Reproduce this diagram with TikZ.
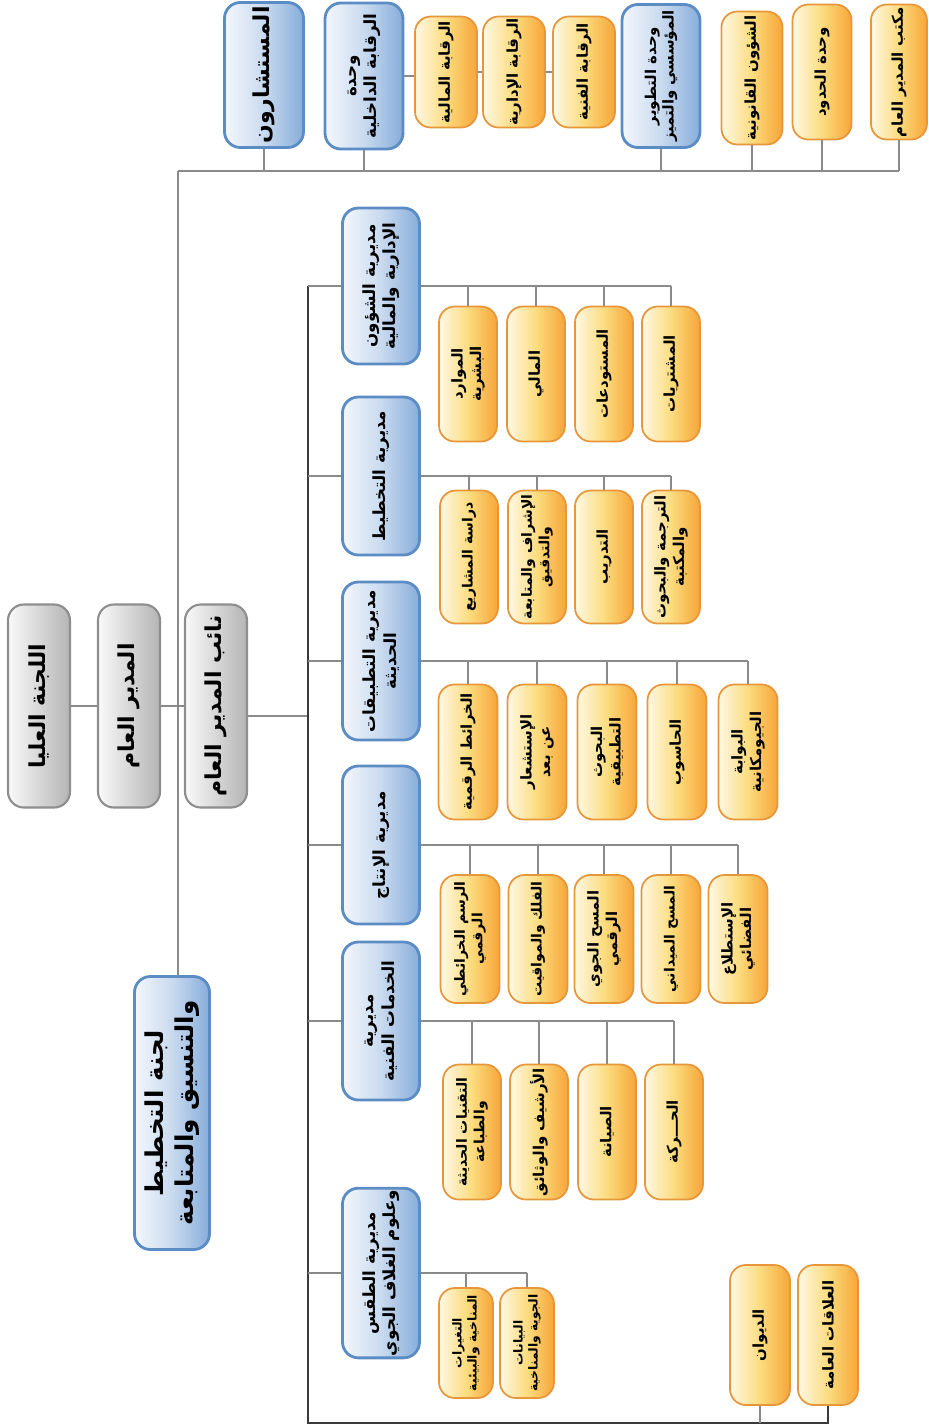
\documentclass[tikz,border=0pt]{standalone}
\usepackage{fontspec}
\newfontfamily\arabicfont[Script=Arabic]{DejaVu Sans}
\TeXXeTstate=1
\usetikzlibrary{calc}
\newcommand{\artxt}[1]{\beginR #1\endR}

\definecolor{blueedge}{HTML}{5B8CC4}
\definecolor{bluefill}{HTML}{86ADDB}
\definecolor{bluemid}{HTML}{C9DAEF}
\definecolor{bluelight}{HTML}{F4F7FC}
\definecolor{orangeedge}{HTML}{E8963A}
\definecolor{orangefill}{HTML}{F7A538}
\definecolor{orangemid}{HTML}{FBDC7E}
\definecolor{orangelight}{HTML}{FFF8E4}
\definecolor{grayedge}{HTML}{8E8E8E}
\definecolor{grayfill}{HTML}{B4B4B4}
\definecolor{graylight}{HTML}{FAFAFA}
\definecolor{linegray}{HTML}{8A8A8A}
\definecolor{linedark}{HTML}{3A3A3A}

\tikzstyle{unit}=[%
  rounded corners=9pt,
  rotate=90,
  align=center,
  inner sep=1pt,
  font=\arabicfont\bfseries\fontsize{8.5}{10.5}\selectfont
]
\tikzstyle{bluebox}=[unit, draw=blueedge, line width=1.6pt,
  left color=bluelight, right color=bluefill, middle color=bluemid,
  font=\arabicfont\bfseries\fontsize{9.5}{11.5}\selectfont]
\tikzstyle{orangebox}=[unit, draw=orangeedge, line width=1pt,
  left color=orangelight, right color=orangefill, middle color=orangemid]
\tikzstyle{graybox}=[unit, draw=grayedge, line width=1.2pt,
  left color=graylight, right color=grayfill,
  font=\arabicfont\bfseries\fontsize{12.5}{15}\selectfont]
\tikzstyle{bigtext}=[font=\arabicfont\bfseries\fontsize{14}{17}\selectfont]
\tikzstyle{headtext}=[font=\arabicfont\bfseries\fontsize{12.5}{15}\selectfont]
\tikzstyle{midtext}=[font=\arabicfont\bfseries\fontsize{8.5}{10}\selectfont]
\tikzstyle{longtext}=[font=\arabicfont\bfseries\fontsize{8}{10}\selectfont]
\tikzstyle{smalltext}=[font=\arabicfont\bfseries\fontsize{7}{8.5}\selectfont]
\tikzstyle{link}=[draw=linegray, line width=0.6pt]
\tikzstyle{trunk}=[draw=linedark, line width=1.1pt]
\tikzset{boxsize/.style 2 args={minimum width=#2*0.02cm, minimum height=#1*0.02cm}}

\begin{document}
\begin{tikzpicture}[x=0.02cm, y=-0.02cm]
  \useasboundingbox (0,0) rectangle (929,1427);

  % top row
  \node[bluebox, headtext, boxsize={79}{145}] (advisors) at (264,75) {\artxt{المستشارون}};
  \node[bluebox, boxsize={78}{146}] (internal) at (364,76) {\artxt{وحدة}\\\artxt{الرقابة الداخلية}};
  \node[orangebox, boxsize={62}{111}] (fincontrol) at (446,72) {\artxt{الرقابة المالية}};
  \node[orangebox, boxsize={62}{111}] (admcontrol) at (514,72) {\artxt{الرقابة الإدارية}};
  \node[orangebox, boxsize={62}{111}] (techcontrol) at (584,72) {\artxt{الرقابة الفنية}};
  \node[bluebox, midtext, boxsize={78}{143}] (devunit) at (661,76) {\artxt{وحدة التطوير}\\\artxt{المؤسسي والتميز}};
  \node[orangebox, midtext, boxsize={61}{133}] (legal) at (752,78) {\artxt{الشؤون القانونية}};
  \node[orangebox, midtext, boxsize={59}{135}] (borders) at (822,72) {\artxt{وحدة الحدود}};
  \node[orangebox, midtext, boxsize={56}{135}] (office) at (899,72) {\artxt{مكتب المدير العام}};

  % left column
  \node[graybox, boxsize={62}{203}] (supreme) at (39,706) {\artxt{اللجنة العليا}};
  \node[graybox, boxsize={62}{203}] (dg) at (129,706) {\artxt{المدير العام}};
  \node[graybox, boxsize={62}{203}] (deputy) at (216,706) {\artxt{نائب المدير العام}};
  \node[bluebox, bigtext, boxsize={75}{273}] (committee) at (172,1113) {\artxt{لجنة التخطيط}\\\artxt{والتنسيق والمتابعة}};

  % directorates
  \node[bluebox, boxsize={77}{156}] (dirAdmin) at (381,286) {\artxt{مديرية الشؤون}\\\artxt{الإدارية والمالية}};
  \node[bluebox, boxsize={77}{158}] (dirPlan) at (381,476) {\artxt{مديرية التخطيط}};
  \node[bluebox, boxsize={77}{158}] (dirApps) at (381,661) {\artxt{مديرية التطبيقات}\\\artxt{الحديثة}};
  \node[bluebox, boxsize={77}{158}] (dirProd) at (381,845) {\artxt{مديرية الإنتاج}};
  \node[bluebox, boxsize={77}{158}] (dirServ) at (381,1021) {\artxt{مديرية}\\\artxt{الخدمات الفنية}};
  \node[bluebox, boxsize={77}{158}] (dirWeather) at (381,1273) {\artxt{مديرية الطقس}\\\artxt{وعلوم الغلاف الجوي}};

  % sections
  \node[orangebox, boxsize={58}{135}] (hr) at (468,374) {\artxt{الموارد}\\\artxt{البشرية}};
  \node[orangebox, boxsize={58}{135}] (finance) at (536,374) {\artxt{المالي}};
  \node[orangebox, boxsize={58}{135}] (stores) at (604,374) {\artxt{المستودعات}};
  \node[orangebox, boxsize={58}{135}] (purchasing) at (671,374) {\artxt{المشتريات}};

  \node[orangebox, longtext, boxsize={58}{133}] (projects) at (469,557) {\artxt{دراسة المشاريع}};
  \node[orangebox, longtext, boxsize={58}{133}] (supervision) at (537,557) {\artxt{الإشراف والمتابعة}\\\artxt{والتدقيق}};
  \node[orangebox, boxsize={58}{133}] (training) at (604,557) {\artxt{التدريب}};
  \node[orangebox, boxsize={58}{133}] (translation) at (671,557) {\artxt{الترجمة والبحوث}\\\artxt{والمكتبة}};

  \node[orangebox, boxsize={59}{135}] (digmaps) at (468,752) {\artxt{الخرائط الرقمية}};
  \node[orangebox, boxsize={59}{135}] (remote) at (537,752) {\artxt{الإستشعار}\\\artxt{عن بعد}};
  \node[orangebox, boxsize={59}{135}] (research) at (607,752) {\artxt{البحوث}\\\artxt{التطبيقية}};
  \node[orangebox, boxsize={59}{135}] (computing) at (677,752) {\artxt{الحاسوب}};
  \node[orangebox, boxsize={59}{135}] (portal) at (748,752) {\artxt{البوابة}\\\artxt{الجيومكانية}};

  \node[orangebox, longtext, boxsize={59}{128}] (cartography) at (470,939) {\artxt{الرسم الخرائطي}\\\artxt{الرقمي}};
  \node[orangebox, longtext, boxsize={59}{128}] (astronomy) at (538,939) {\artxt{الفلك والمواقيت}};
  \node[orangebox, boxsize={59}{128}] (aerial) at (604,939) {\artxt{المسح الجوي}\\\artxt{الرقمي}};
  \node[orangebox, longtext, boxsize={59}{128}] (fieldsurvey) at (671,939) {\artxt{المسح الميداني}};
  \node[orangebox, boxsize={59}{128}] (spacerecon) at (738,939) {\artxt{الإستطلاع}\\\artxt{الفضائي}};

  \node[orangebox, longtext, boxsize={58}{135}] (printing) at (472,1132) {\artxt{التقنيات الحديثة}\\\artxt{والطباعة}};
  \node[orangebox, boxsize={58}{135}] (archive) at (539,1132) {\artxt{الأرشيف والوثائق}};
  \node[orangebox, boxsize={58}{135}] (maintenance) at (607,1132) {\artxt{الصيانة}};
  \node[orangebox, boxsize={58}{135}] (transport) at (674,1132) {\artxt{الحـــركة}};

  \node[orangebox, smalltext, boxsize={54}{110}] (climate) at (466,1343) {\artxt{التغيرات}\\\artxt{المناخية والبيئية}};
  \node[orangebox, smalltext, boxsize={54}{110}] (atmdata) at (527,1343) {\artxt{البيانات}\\\artxt{الجوية والمناخية}};

  \node[orangebox, boxsize={60}{140}] (diwan) at (760,1335) {\artxt{الديوان}};
  \node[orangebox, boxsize={60}{140}] (pr) at (828,1335) {\artxt{العلاقات العامة}};

  % connectors
  \coordinate (spine) at (178,171);
  \coordinate (deplink) at (308,716);
  \coordinate (trunktop) at (308,286);
  \coordinate (trunkbot) at (308,1423);

  \draw[link] (spine) -- (spine -| office.west);
  \draw[link] (spine) -- (spine |- committee.east);
  \foreach \u in {advisors,internal,devunit,legal,borders,office}
    \draw[link] (\u.west) -- (\u.west |- spine);
  \draw[link] (internal.south) -- (fincontrol.north |- internal.south);
  \draw[link] (fincontrol.south) -- (admcontrol.north);
  \draw[link] (admcontrol.south) -- (techcontrol.north);

  \draw[link] (supreme.south) -- (dg.north);
  \draw[link] (dg.south) -- (deputy.north);
  \draw[link] (deputy.south |- deplink) -- (deplink);

  \draw[trunk] (trunktop) -- (trunkbot) -| (pr.west);
  \draw[link] (diwan.west) -- (diwan.west |- trunkbot);
  \foreach \d in {dirAdmin,dirPlan,dirApps,dirProd,dirServ,dirWeather}
    \draw[link] (\d.north) -- (\d.north -| trunktop);

  \draw[link] (dirAdmin.south) -- (dirAdmin.south -| purchasing.east);
  \foreach \k in {hr,finance,stores,purchasing}
    \draw[link] (\k.east) -- (\k.east |- dirAdmin.south);
  \draw[link] (dirPlan.south) -- (dirPlan.south -| translation.east);
  \foreach \k in {projects,supervision,training,translation}
    \draw[link] (\k.east) -- (\k.east |- dirPlan.south);
  \draw[link] (dirApps.south) -- (dirApps.south -| portal.east);
  \foreach \k in {digmaps,remote,research,computing,portal}
    \draw[link] (\k.east) -- (\k.east |- dirApps.south);
  \draw[link] (dirProd.south) -- (dirProd.south -| spacerecon.east);
  \foreach \k in {cartography,astronomy,aerial,fieldsurvey,spacerecon}
    \draw[link] (\k.east) -- (\k.east |- dirProd.south);
  \draw[link] (dirServ.south) -- (dirServ.south -| transport.east);
  \foreach \k in {printing,archive,maintenance,transport}
    \draw[link] (\k.east) -- (\k.east |- dirServ.south);
  \draw[link] (dirWeather.south) -- (dirWeather.south -| atmdata.east);
  \foreach \k in {climate,atmdata}
    \draw[link] (\k.east) -- (\k.east |- dirWeather.south);
\end{tikzpicture}
\end{document}
